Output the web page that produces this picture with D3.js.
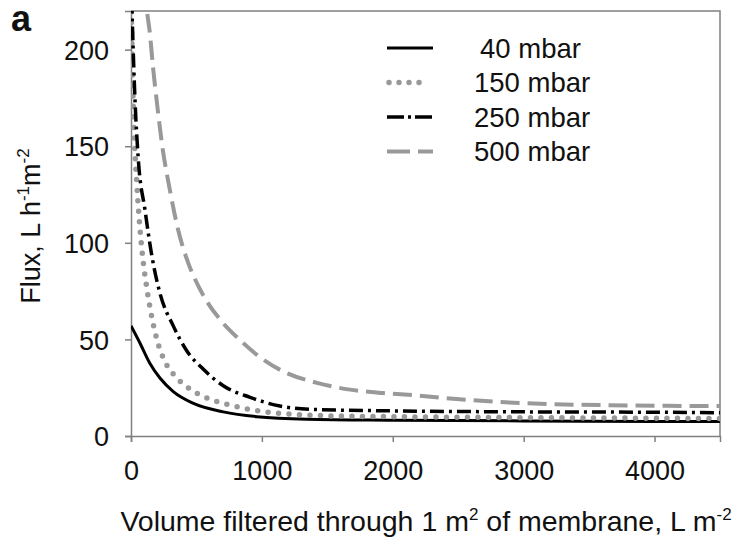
<html lang="en">
<head>
    <meta charset="utf-8">
    <title>Flux vs volume</title>
    <script type="text/javascript" src="https://cdn.jsdelivr.net/npm/d3@7"></script>
    <style type="text/css">
        body { margin: 0; background: #fff; }
        text { font-family: "Liberation Sans", Arial, sans-serif; fill: #111; }
    </style>
</head>
<body>
<script type="text/javascript">
    // values: volume (L m-2) and flux (L h-1 m-2)
    var seriesNames = ["40 mbar", "150 mbar", "250 mbar", "500 mbar"];
    var vol40  = [0, 69, 145, 221, 323, 473, 705, 962, 1344, 2000, 3000, 4000, 4500];
    var flux40 = [57, 48, 37.5, 30, 23, 17, 12.5, 10, 8.7, 8.2, 7.8, 7.5, 7.5];
    var vol150  = [0, 20, 45, 69, 92, 122, 168, 206, 260, 351, 427, 580, 756, 1008, 1291, 1600, 2000, 3000, 4000, 4500];
    var flux150 = [225, 165, 130, 107, 91, 76, 58.5, 48, 38.5, 30, 25.4, 19.7, 16, 12.6, 11, 10.3, 10, 9.5, 9.2, 9];
    var vol250  = [0, 10, 30, 55, 107, 160, 221, 323, 427, 553, 705, 910, 1138, 1390, 2000, 3000, 4000, 4500];
    var flux250 = [240, 215, 175, 144, 117, 93, 74, 57, 44, 34.5, 26, 20, 15.5, 13.8, 13, 12.5, 12.3, 12];
    var vol500  = [0, 122, 145, 168, 199, 237, 298, 359, 435, 527, 703, 833, 962, 1161, 1421, 1673, 1925, 2185, 2383, 2817, 3580, 4500];
    var flux500 = [330, 220, 208, 191, 172, 151, 127, 107, 90, 76, 58.5, 49.7, 42, 33.5, 27.5, 24, 22.2, 21, 19.7, 17.6, 16, 15.5];
    var xTicks = [0, 1000, 2000, 3000, 4000];
    var yTicks = [0, 50, 100, 150, 200];

    var w = 741, h = 540;
    var pLeft = 131, pRight = 720, pTop = 11, pBottom = 436;

    var svg = d3.select("body").append("svg")
            .attr("width", w)
            .attr("height", h);

    var x = d3.scaleLinear().domain([0, 4500]).range([pLeft, pRight]);
    var y = d3.scaleLinear().domain([0, 220]).range([pBottom, pTop]);

    svg.append("clipPath").attr("id", "plot")
        .append("rect")
        .attr("x", pLeft).attr("y", pTop)
        .attr("width", pRight - pLeft).attr("height", pBottom - pTop);

    // frame (top and right)
    svg.append("path")
        .attr("d", "M" + pLeft + "," + pTop + "H" + pRight + "V" + pBottom)
        .attr("fill", "none")
        .attr("stroke", "#808080")
        .attr("stroke-width", 1.5);

    var xAxis = svg.append("g")
            .attr("transform", "translate(0," + pBottom + ")")
            .call(d3.axisBottom(x).tickValues(xTicks).tickSize(6).tickFormat(d3.format("d")));
    var yAxis = svg.append("g")
            .attr("transform", "translate(" + pLeft + ",0)")
            .call(d3.axisLeft(y).tickValues(yTicks).tickSize(6));
    [xAxis, yAxis].forEach(function(a) {
        a.select(".domain").attr("stroke", "#808080").attr("stroke-width", 1.5);
        a.selectAll(".tick line").attr("stroke", "#808080").attr("stroke-width", 1.5);
        a.selectAll("text").attr("font-size", "27px").attr("fill", "#111")
            .attr("font-family", "Liberation Sans, Arial, sans-serif");
    });
    xAxis.selectAll("text").attr("dy", null).attr("y", 44);
    yAxis.selectAll("text").attr("x", -22).attr("dy", "0.36em");

    var styles = [
        { color: "#000", width: 3, dash: null, cap: "butt" },
        { color: "#999", width: 5.5, dash: "0,10.5", cap: "round" },
        { color: "#000", width: 3.5, dash: "14,5,3,5", cap: "butt" },
        { color: "#999", width: 4, dash: "19,8", cap: "butt" }
    ];
    var legendDash = [null, "0,10", "17,4,3,4", "23,8"];
    var data = [
        d3.zip(vol40, flux40),
        d3.zip(vol150, flux150),
        d3.zip(vol250, flux250),
        d3.zip(vol500, flux500)
    ];

    var line = d3.line()
            .x(function(d) { return x(d[0]); })
            .y(function(d) { return y(d[1]); })
            .curve(d3.curveMonotoneX);

    var order = [0, 1, 3, 2];
    svg.append("g").attr("clip-path", "url(#plot)")
        .selectAll("path")
        .data(order)
        .enter()
        .append("path")
        .attr("d", function(i) { return line(data[i]); })
        .attr("fill", "none")
        .attr("stroke", function(i) { return styles[i].color; })
        .attr("stroke-width", function(i) { return styles[i].width; })
        .attr("stroke-dasharray", function(i) { return styles[i].dash; })
        .attr("stroke-linecap", function(i) { return styles[i].cap; });

    // legend
    var legend = svg.append("g")
            .selectAll("g")
            .data(seriesNames)
            .enter()
            .append("g")
            .attr("transform", function(d, i) { return "translate(0," + (48 + i * 34.5) + ")"; });
    legend.append("line")
        .attr("x1", function(d, i) { return i === 1 ? 389 : 387; })
        .attr("x2", function(d, i) { return i === 1 ? 421 : 433; })
        .attr("stroke", function(d, i) { return styles[i].color; })
        .attr("stroke-width", function(d, i) { return styles[i].width; })
        .attr("stroke-dasharray", function(d, i) { return legendDash[i]; })
        .attr("stroke-linecap", function(d, i) { return styles[i].cap; });
    legend.append("text")
        .attr("x", function(d, i) { return i === 0 ? 480 : 474; })
        .attr("dy", "0.36em")
        .attr("font-size", "27.5px")
        .text(function(d) { return d; });

    // titles
    svg.append("text")
        .attr("x", 11).attr("y", 31)
        .attr("font-size", "36px")
        .attr("font-weight", "bold")
        .text("a");

    var xt = svg.append("text")
            .attr("x", 426).attr("y", 531)
            .attr("text-anchor", "middle")
            .attr("font-size", "28.5px");
    xt.append("tspan").text("Volume filtered through 1 m");
    xt.append("tspan").attr("dy", -11).attr("font-size", "17px").text("2");
    xt.append("tspan").attr("dy", 11).text(" of membrane, L m");
    xt.append("tspan").attr("dy", -11).attr("font-size", "17px").text("-2");

    var yt = svg.append("text")
            .attr("transform", "translate(40,226) rotate(-90)")
            .attr("text-anchor", "middle")
            .attr("font-size", "27px");
    yt.append("tspan").text("Flux, L h");
    yt.append("tspan").attr("dy", -11).attr("font-size", "17px").text("-1");
    yt.append("tspan").attr("dy", 11).text("m");
    yt.append("tspan").attr("dy", -11).attr("font-size", "17px").text("-2");
</script>
</body>
</html>
